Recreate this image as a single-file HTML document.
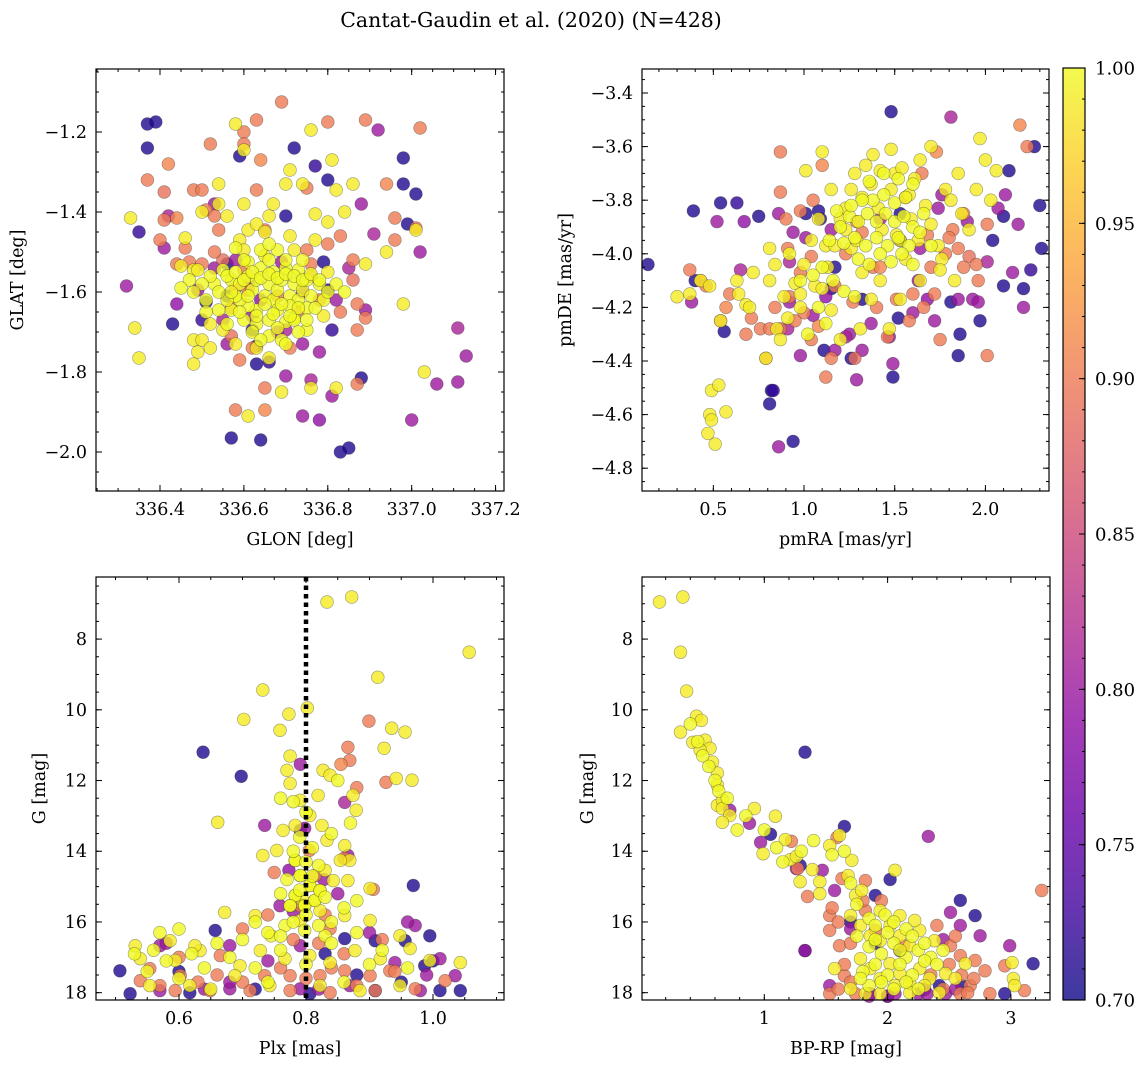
<!DOCTYPE html>
<html><head><meta charset="utf-8"><title>Cantat-Gaudin et al. (2020)</title>
<style>
html,body{margin:0;padding:0;background:#fff;}
svg{display:block;font-family:"DejaVu Serif","Liberation Serif",serif;}
</style></head>
<body>
<svg id="fig" width="1148" height="1068" viewBox="0 0 1148 1068" xmlns="http://www.w3.org/2000/svg">
<defs>
<linearGradient id="plasmaGrad" x1="0" y1="1" x2="0" y2="0">
<stop offset="0" stop-color="#0d0887"/><stop offset="0.1" stop-color="#41049d"/><stop offset="0.2" stop-color="#6a00a8"/><stop offset="0.3" stop-color="#8f0da4"/><stop offset="0.4" stop-color="#b12a90"/><stop offset="0.5" stop-color="#cc4778"/><stop offset="0.6" stop-color="#e16462"/><stop offset="0.7" stop-color="#f2844b"/><stop offset="0.8" stop-color="#fca636"/><stop offset="0.9" stop-color="#fcce25"/><stop offset="1" stop-color="#f0f921"/>
</linearGradient>
</defs>
<text x="531" y="27" font-size="20.5" text-anchor="middle">Cantat-Gaudin et al. (2020) (N=428)</text>
</svg>
<script>
// ---------- data (value units) ----------
// Panel 1: [GLON, GLAT, prob]
const posData = [
[336.37,-1.18,.71],[336.39,-1.175,.71],[336.37,-1.24,.71],[336.35,-1.45,.72],[336.43,-1.68,.71],[336.51,-1.625,.71],[336.50,-1.67,.72],[336.56,-1.53,.71],[336.56,-1.61,.71],[336.59,-1.26,.71],[336.63,-1.735,.72],[336.63,-1.78,.71],[336.64,-1.97,.71],[336.57,-1.965,.71],[336.66,-1.775,.72],[336.72,-1.24,.71],[336.70,-1.41,.71],[336.77,-1.285,.72],[336.80,-1.32,.71],[336.79,-1.525,.71],[336.80,-1.595,.72],[336.83,-2.0,.71],[336.85,-1.99,.71],[336.88,-1.815,.71],[336.98,-1.33,.71],[336.98,-1.265,.71],[337.01,-1.355,.71],[336.99,-1.43,.71],[336.81,-1.695,.72],[336.62,-1.695,.72],
[336.32,-1.585,.80],[336.41,-1.49,.80],[336.42,-1.41,.81],[336.44,-1.63,.79],[336.53,-1.38,.80],[336.49,-1.595,.80],[336.55,-1.67,.81],[336.58,-1.52,.80],[336.64,-1.62,.79],[336.62,-1.66,.80],[336.74,-1.73,.80],[336.76,-1.82,.81],[336.78,-1.75,.80],[336.81,-1.86,.80],[336.78,-1.92,.79],[336.82,-1.62,.80],[336.85,-1.54,.81],[336.89,-1.645,.80],[336.92,-1.195,.80],[336.88,-1.38,.80],[336.91,-1.455,.81],[337.00,-1.92,.80],[337.02,-1.50,.80],[337.11,-1.825,.80],[337.11,-1.69,.81],[337.13,-1.76,.80],[337.06,-1.83,.80],[336.70,-1.81,.80],[336.74,-1.91,.80],[336.70,-1.695,.81],[336.69,-1.525,.80],
[336.69,-1.125,.90],[336.52,-1.23,.90],[336.51,-1.395,.90],[336.42,-1.28,.91],[336.41,-1.35,.89],[336.37,-1.32,.90],[336.41,-1.42,.90],[336.40,-1.47,.90],[336.44,-1.415,.91],[336.48,-1.345,.90],[336.50,-1.345,.90],[336.53,-1.41,.90],[336.57,-1.71,.89],[336.59,-1.77,.90],[336.58,-1.895,.90],[336.65,-1.84,.90],[336.65,-1.895,.91],[336.60,-1.20,.90],[336.63,-1.17,.90],[336.60,-1.23,.90],[336.63,-1.345,.90],[336.64,-1.27,.91],[336.65,-1.445,.90],[336.75,-1.34,.90],[336.80,-1.175,.90],[336.83,-1.46,.90],[336.86,-1.52,.90],[336.86,-1.57,.89],[336.87,-1.63,.90],[336.87,-1.695,.90],[336.89,-1.665,.90],[336.89,-1.17,.90],[336.94,-1.33,.91],[336.96,-1.415,.90],[336.96,-1.47,.90],[337.01,-1.44,.90],[337.02,-1.19,.90],[336.87,-1.83,.90],[336.75,-1.495,.90],[336.76,-1.56,.91],[336.73,-1.645,.90],[336.60,-1.545,.90],[336.61,-1.595,.90],[336.58,-1.59,.90],[336.55,-1.52,.89],[336.54,-1.445,.90],[336.46,-1.49,.90],[336.47,-1.525,.90],[336.68,-1.61,.90],[336.78,-1.62,.90],
[336.33,-1.415,.99],[336.34,-1.69,.99],[336.35,-1.765,.99],[336.46,-1.465,.99],[336.45,-1.535,.99],[336.48,-1.545,.99],[336.49,-1.545,.99],[336.48,-1.72,.99],[336.49,-1.75,.99],[336.48,-1.78,.99],[336.50,-1.72,.99],[336.50,-1.40,.99],[336.54,-1.33,.99],[336.54,-1.38,.99],[336.56,-1.41,.99],[336.58,-1.18,.99],[336.60,-1.245,.99],[336.60,-1.38,.99],[336.59,-1.47,.99],[336.60,-1.495,.99],[336.61,-1.445,.99],[336.63,-1.43,.99],[336.65,-1.45,.99],[336.66,-1.41,.99],[336.67,-1.38,.99],[336.65,-1.51,.99],[336.70,-1.33,.99],[336.71,-1.295,.99],[336.71,-1.46,.99],[336.72,-1.495,.99],[336.74,-1.33,.99],[336.76,-1.195,.99],[336.77,-1.405,.99],[336.77,-1.47,.99],[336.80,-1.425,.99],[336.80,-1.55,.99],[336.81,-1.27,.99],[336.82,-1.345,.99],[336.84,-1.40,.99],[336.86,-1.33,.99],[336.89,-1.53,.99],[336.94,-1.50,.99],[336.98,-1.63,.99],[337.01,-1.445,.99],[337.03,-1.80,.99],[336.82,-1.84,.99],[336.76,-1.84,.99],[336.79,-1.66,.99],[336.69,-1.85,.99],[336.66,-1.765,.99],[336.63,-1.74,.99],[336.61,-1.91,.99],[336.58,-1.73,.99],[336.55,-1.695,.99],[336.52,-1.68,.99],[336.52,-1.74,.99],
[336.55,-1.545,1],[336.57,-1.57,1],[336.59,-1.58,1],[336.61,-1.56,1],[336.62,-1.595,1],[336.63,-1.57,1],[336.65,-1.61,1],[336.66,-1.58,1],[336.67,-1.62,1],[336.68,-1.595,1],[336.69,-1.57,1],[336.71,-1.61,1],[336.72,-1.58,1],[336.73,-1.62,1],[336.74,-1.595,1],[336.75,-1.57,1],[336.76,-1.61,1],[336.78,-1.58,1],[336.79,-1.62,1],[336.71,-1.635,1],[336.68,-1.645,1],[336.66,-1.67,1],[336.63,-1.645,1],[336.61,-1.635,1],[336.59,-1.62,1],[336.57,-1.645,1],[336.60,-1.67,1],[336.63,-1.68,1],[336.66,-1.71,1],[336.70,-1.675,1],[336.72,-1.665,1],[336.75,-1.64,1],[336.73,-1.545,1],[336.70,-1.54,1],[336.67,-1.55,1],[336.64,-1.54,1],[336.61,-1.525,1],[336.64,-1.495,1],[336.68,-1.495,1],[336.72,-1.67,1],[336.75,-1.695,1],[336.69,-1.72,1],[336.58,-1.61,1],[336.56,-1.62,1],[336.53,-1.58,1],[336.51,-1.62,1],[336.54,-1.645,1]
];
const posExtra = [
[336.56,-1.56,1],[336.58,-1.55,1],[336.60,-1.57,1],[336.62,-1.55,1],[336.64,-1.565,1],[336.66,-1.555,1],[336.68,-1.565,1],[336.70,-1.555,1],[336.72,-1.56,1],[336.74,-1.57,1],[336.76,-1.555,1],[336.78,-1.57,1],[336.80,-1.60,1],[336.57,-1.60,1],[336.61,-1.61,1],[336.65,-1.63,1],[336.69,-1.63,1],[336.73,-1.64,1],[336.77,-1.64,1],[336.59,-1.65,1],[336.63,-1.66,1],[336.67,-1.655,1],[336.71,-1.66,1],[336.75,-1.67,1],[336.62,-1.70,1],[336.68,-1.69,1],[336.73,-1.70,1],[336.70,-1.73,1],[336.64,-1.72,1],[336.54,-1.60,1],[336.52,-1.56,1],[336.50,-1.58,1],[336.48,-1.60,1],[336.82,-1.58,1],[336.84,-1.60,1],[336.66,-1.52,1],[336.70,-1.52,1],[336.74,-1.52,1],[336.60,-1.52,1],[336.58,-1.49,1],[336.66,-1.48,1],[336.56,-1.68,1],[336.51,-1.65,1],[336.47,-1.57,1],[336.45,-1.59,1],
[336.50,-1.53,.90],[336.53,-1.50,.90],[336.57,-1.64,.90],[336.76,-1.53,.90],[336.83,-1.65,.90],[336.80,-1.48,.90],[336.44,-1.53,.90],[336.62,-1.74,.90],[336.71,-1.74,.90],
[336.53,-1.54,.80],[336.61,-1.58,.80],[336.74,-1.60,.80],[336.68,-1.70,.80],[336.56,-1.73,.80]
];
// Panel 2: [pmRA, pmDE, prob]
const pmData = [
[0.14,-4.04,.71],[0.39,-3.84,.71],[0.40,-4.10,.71],[0.54,-3.81,.71],[0.56,-4.29,.71],[0.63,-3.81,.72],[0.75,-3.86,.71],[0.82,-4.51,.71],[0.81,-4.56,.71],[0.83,-4.51,.72],[0.94,-4.70,.71],[1.01,-3.85,.71],[1.08,-3.84,.71],[1.09,-3.87,.72],[1.11,-4.36,.71],[1.17,-4.05,.71],[1.15,-4.13,.71],[1.26,-4.39,.71],[1.32,-4.17,.71],[1.48,-3.47,.71],[1.49,-4.46,.71],[1.52,-4.24,.71],[1.53,-3.95,.72],[1.85,-4.38,.71],[1.97,-4.25,.71],[2.10,-3.86,.71],[2.13,-3.69,.71],[2.10,-4.12,.71],[2.31,-3.98,.71],[2.25,-4.06,.72],[2.21,-4.13,.71],[2.27,-3.60,.71],[2.30,-3.82,.71],[2.04,-3.95,.71],[1.81,-4.18,.71],[1.86,-4.30,.71],[1.53,-3.85,.71],
[0.38,-4.18,.80],[0.52,-3.88,.80],[0.65,-4.06,.81],[0.67,-3.88,.79],[0.86,-3.85,.80],[0.94,-3.92,.80],[0.91,-4.28,.81],[0.98,-4.38,.80],[1.01,-3.94,.80],[1.12,-4.16,.79],[1.17,-4.36,.80],[1.23,-4.31,.81],[1.29,-4.47,.80],[1.32,-4.36,.80],[1.37,-4.26,.80],[1.42,-3.87,.81],[1.47,-4.31,.80],[1.49,-4.41,.80],[1.63,-4.10,.80],[1.64,-3.98,.80],[1.68,-4.17,.79],[1.74,-3.83,.80],[1.76,-3.78,.80],[1.81,-3.49,.81],[1.90,-3.88,.80],[1.93,-4.17,.80],[1.96,-4.18,.80],[2.01,-4.03,.81],[2.07,-3.83,.80],[2.11,-3.78,.80],[2.18,-3.89,.80],[2.21,-4.20,.80],[0.86,-4.72,.80],[0.92,-4.03,.81],[1.05,-4.23,.80],[1.15,-3.91,.80],[1.85,-4.17,.80],[2.15,-4.07,.80],
[0.37,-4.06,.90],[0.43,-4.10,.90],[0.46,-4.12,.90],[0.57,-4.20,.91],[0.54,-4.25,.89],[0.59,-4.15,.90],[0.68,-4.30,.90],[0.71,-4.24,.90],[0.76,-4.28,.90],[0.79,-4.39,.91],[0.84,-4.20,.90],[0.81,-4.28,.90],[0.87,-4.28,.89],[0.91,-3.98,.90],[0.92,-4.16,.90],[0.98,-4.07,.90],[1.04,-4.32,.90],[1.08,-4.27,.91],[1.12,-4.46,.90],[1.15,-4.39,.90],[1.17,-4.12,.90],[1.23,-4.00,.90],[1.28,-4.39,.89],[1.29,-3.88,.90],[1.32,-3.92,.90],[1.38,-4.05,.90],[1.42,-4.05,.91],[1.46,-4.31,.90],[1.51,-4.17,.90],[1.56,-3.79,.90],[1.65,-3.70,.90],[1.73,-3.62,.91],[1.82,-3.91,.90],[1.85,-3.98,.90],[1.88,-4.05,.90],[1.91,-4.01,.89],[1.95,-4.04,.90],[2.01,-3.89,.90],[1.96,-4.10,.90],[2.01,-4.38,.90],[2.23,-3.60,.90],[2.19,-3.52,.91],[0.87,-3.62,.90],[0.87,-3.77,.90],[0.90,-3.87,.90],[0.98,-3.84,.90],[1.05,-3.80,.90],[1.10,-3.67,.91],[1.04,-4.01,.90],[1.27,-4.18,.90],[1.75,-4.32,.90],[1.80,-3.94,.90],[1.88,-3.85,.90],
[0.30,-4.16,.99],[0.37,-4.15,.99],[0.43,-4.10,.99],[0.48,-4.12,.99],[0.49,-4.51,.99],[0.53,-4.49,.99],[0.48,-4.60,.99],[0.49,-4.62,.99],[0.47,-4.67,.99],[0.51,-4.71,.99],[0.54,-4.25,.99],[0.57,-4.59,.99],[0.64,-4.15,.99],[0.63,-4.10,.99],[0.68,-4.19,.99],[0.70,-4.20,.99],[0.72,-4.07,.99],[0.79,-4.39,.99],[0.81,-4.10,.99],[0.84,-4.04,.99],[0.85,-4.28,.99],[0.87,-4.32,.99],[0.89,-4.16,.99],[0.91,-4.24,.99],[0.95,-4.11,.99],[0.98,-4.15,.99],[1.00,-4.04,.99],[1.01,-3.69,.99],[1.04,-3.95,.99],[1.06,-4.12,.99],[1.10,-4.13,.99],[1.12,-3.97,.99],[1.13,-4.05,.99],[1.17,-3.97,.99],[1.20,-3.87,.99],[1.23,-3.91,.99],[1.26,-3.98,.99],[1.29,-3.95,.99],[1.32,-3.79,.99],[1.37,-3.74,.99],[1.41,-3.83,.99],[1.43,-3.91,.99],[1.48,-3.76,.99],[1.51,-3.93,.99],[1.53,-3.95,.99],[1.56,-4.02,.99],[1.59,-3.87,.99],[1.63,-3.95,.99],[1.67,-3.82,.99],[1.70,-3.89,.99],[1.74,-3.97,.99],[1.76,-4.02,.99],[1.78,-3.76,.99],[1.81,-3.80,.99],[1.85,-3.70,.99],[1.87,-3.85,.99],[1.91,-3.91,.99],[1.95,-3.76,.99],[1.97,-3.57,.99],[2.00,-3.65,.99],[2.03,-3.80,.99],[2.06,-3.69,.99],[1.48,-3.61,.99],[1.50,-3.70,.99],[1.54,-3.68,.99],[1.58,-3.78,.99],[1.61,-3.72,.99],[1.64,-3.65,.99],[1.70,-3.60,.99],[1.26,-3.76,.99],[1.28,-3.70,.99],[1.34,-3.67,.99],[1.38,-3.63,.99],[1.42,-3.69,.99],[1.47,-4.28,.99],[1.31,-4.28,.99],[1.20,-4.32,.99],[1.15,-4.21,.99],[1.37,-4.17,.99],[1.42,-4.10,.99],[1.64,-4.10,.99],[1.75,-4.06,.99],[1.83,-4.10,.99],[1.32,-4.07,.99],[1.53,-4.17,.99],[1.15,-3.76,.99],[1.08,-3.87,.99],[1.23,-3.83,.99],[1.10,-3.62,.99],[0.81,-3.98,.99],[0.98,-4.20,.99]
];
const pmExtra = [
[1.20,-3.90,1],[1.25,-3.86,1],[1.30,-3.88,1],[1.35,-3.85,1],[1.40,-3.88,1],[1.45,-3.85,1],[1.50,-3.88,1],[1.55,-3.86,1],[1.60,-3.90,1],[1.22,-3.96,1],[1.28,-3.94,1],[1.34,-3.97,1],[1.40,-3.94,1],[1.46,-3.97,1],[1.52,-3.94,1],[1.58,-3.97,1],[1.64,-3.92,1],[1.30,-4.02,1],[1.36,-4.04,1],[1.42,-4.00,1],[1.48,-4.03,1],[1.54,-4.00,1],[1.60,-4.04,1],[1.38,-3.80,1],[1.44,-3.78,1],[1.50,-3.81,1],[1.56,-3.79,1],[1.32,-3.80,1],[1.26,-3.82,1],[1.18,-3.84,1],[1.14,-3.95,1],[1.10,-4.05,1],[1.16,-4.10,1],[1.22,-4.14,1],[1.28,-4.16,1],[1.08,-4.20,1],[1.02,-4.30,1],[1.12,-4.26,1],[1.66,-3.85,1],[1.70,-3.97,1],[1.60,-3.74,1],[1.52,-3.72,1],[1.44,-3.70,1],[1.36,-3.73,1],[1.05,-4.08,1],[0.98,-4.10,1],[0.92,-4.00,1],
[1.70,-4.05,.90],[1.72,-4.15,.90],[1.66,-4.20,.90],[1.60,-4.15,.90],[1.78,-4.00,.90],[1.68,-3.93,.90],[1.00,-4.22,.90],[0.95,-4.25,.90],[1.40,-4.20,.90],[1.58,-4.25,.90],
[1.60,-4.22,.80],[1.72,-4.25,.80],[1.25,-4.30,.80],[0.92,-4.18,.80]
];
// Panel 3: [Plx, G, prob]
const plxData = [
[0.833,6.95,.99],[0.872,6.81,.99],[1.057,8.37,.99],[0.732,9.44,.99],[0.702,10.27,.99],[0.773,10.12,.99],[0.759,10.58,.99],[0.802,9.95,.99],[0.913,9.08,.99],[0.935,10.52,.99],[0.923,11.09,.99],[0.956,10.63,.99],[0.967,11.99,.99],[0.942,11.94,.99],[0.661,13.18,.99],[0.775,11.31,.99],[0.770,11.71,.99],[0.775,12.08,.99],[0.791,12.56,.99],[0.783,13.27,.99],[0.819,12.42,.99],[0.827,11.71,.99],[0.838,11.85,.99],[0.833,13.69,.99],[0.861,13.84,.99],[0.874,12.42,.99],[0.879,12.84,.99],[0.869,14.26,.99],[0.854,14.26,.99],[0.825,13.27,.99],[0.806,12.99,.99],[0.764,13.41,.99],[0.754,13.98,.99],[0.732,14.12,.99],[0.830,14.54,.99],[0.843,14.83,.99],[0.866,14.83,.99],[0.901,15.05,.99],[0.795,15.39,.99],[0.783,14.26,.99],[0.791,14.69,.99],[0.806,14.97,.99],[0.783,15.25,.99],[0.798,15.54,.99],[0.814,15.39,.99],[0.775,15.54,.99],[0.822,15.11,.99],
[0.791,11.54,.80],[0.798,13.35,.80],[0.861,12.62,.81],[0.866,14.12,.80],[0.735,13.27,.80],[0.773,14.54,.79],[0.828,14.80,.80],
[0.866,11.06,.90],[0.899,10.32,.90],[0.926,12.05,.90],[0.906,15.08,.90],[0.805,13.98,.90],[0.855,11.54,.91],[0.869,11.43,.90],[0.814,14.69,.90],
[0.638,11.20,.71],[0.698,11.88,.71],[0.969,14.97,.71],[0.791,13.41,.72],
[0.586,16.53,.99],[0.633,16.81,.99],[0.672,15.73,.99],[0.720,15.82,.99],[0.791,15.96,.99],[0.822,15.68,.99],[0.861,15.82,.99],[0.901,15.96,.99],[0.948,16.39,.99],
[0.791,15.54,.90],[0.838,16.19,.90],[0.759,15.54,.80],[0.972,16.10,.80],[0.657,16.24,.71],[0.956,16.53,.71],[0.995,16.39,.71],
[0.539,17.04,.99],[0.531,16.67,.99],[0.594,17.09,.99],[0.625,16.67,.99],[0.696,17.24,.99],[0.728,16.81,.99],[0.767,17.04,.99],[0.806,16.95,.99],[0.838,17.15,.99],[0.877,16.81,.99],[0.917,17.04,.99],[0.964,16.75,.99],[0.995,17.09,.99],[1.043,17.15,.99],
[0.554,17.32,.90],[0.602,17.52,.90],[0.665,16.95,.90],[0.735,17.52,.90],[0.775,17.52,.90],[0.822,17.52,.90],[0.861,17.38,.90],[0.901,17.52,.90],[0.932,17.38,.90],
[0.570,16.67,.80],[0.680,16.67,.80],[0.791,16.67,.80],[0.940,17.15,.80],[1.011,17.04,.80],
[0.507,17.38,.71],[0.861,16.47,.71],[0.909,16.53,.71],[0.987,17.24,.71],
[0.554,17.80,.99],[0.617,17.80,.99],[0.688,17.52,.99],[0.743,17.80,.99],[0.822,17.80,.99],[0.885,17.94,.99],[0.948,17.80,.99],
[0.539,17.66,.90],[0.594,17.94,.90],[0.649,17.94,.90],[0.712,17.94,.90],[0.775,17.94,.90],[0.838,18.00,.90],[0.909,17.94,.90],[0.972,17.89,.90],[1.019,17.66,.90],
[0.570,17.94,.80],[0.680,17.89,.80],[0.791,17.89,.80],[0.869,17.80,.80],[0.980,17.94,.80],[1.035,17.52,.80],
[0.617,18.00,.71],[0.806,18.03,.71],[0.909,17.94,.71],[1.011,17.94,.71],[1.043,17.94,.71],[0.523,18.03,.71],
[0.783,14.26,1],[0.791,14.69,1],[0.806,14.97,1],[0.783,15.25,1],[0.798,15.54,1],[0.814,15.39,1],[0.775,15.54,1],[0.822,15.11,1],[0.767,16.10,1],[0.798,16.24,1],[0.745,16.39,1],[0.830,16.39,1]
];
const plxExtra = [
[0.78,12.6,1],[0.80,12.9,1],[0.79,13.6,1],[0.81,13.9,1],[0.78,14.0,1],[0.80,14.3,1],[0.82,14.4,1],[0.77,14.8,1],[0.81,14.7,1],[0.79,15.1,1],[0.83,15.3,1],[0.76,15.2,1],[0.80,15.8,1],[0.78,16.0,1],[0.82,16.1,1],[0.76,16.4,1],[0.84,16.0,1],[0.74,16.3,1],[0.86,15.6,1],[0.88,15.4,1],[0.72,16.0,1],[0.70,16.5,1],[0.66,16.6,1],[0.62,16.9,1],[0.58,17.1,1],[0.56,16.8,1],[0.60,17.6,1],[0.64,17.3,1],[0.68,17.0,1],[0.72,17.3,1],[0.76,16.8,1],[0.80,17.2,1],[0.84,16.6,1],[0.88,16.3,1],[0.92,16.8,1],[0.96,17.3,1],[0.74,17.7,1],[0.86,17.7,1],[0.90,17.2,1],[0.65,17.9,1],[0.55,17.4,1],[0.53,16.9,1],[0.57,16.3,1],[0.60,16.2,1],[0.85,12.0,1],[0.76,12.5,1],[0.87,13.2,1],[0.84,13.5,1],
[0.74,15.8,.90],[0.70,16.2,.90],[0.82,16.6,.90],[0.86,16.9,.90],[0.60,17.0,.90],[0.66,17.5,.90],[0.70,17.7,.90],[0.76,17.3,.90],[0.80,17.6,.90],[0.84,17.3,.90],[0.88,17.8,.90],[0.92,16.5,.90],[0.94,17.4,.90],[0.57,17.8,.90],[0.63,17.7,.90],[0.78,16.5,.90],[0.83,15.8,.90],[0.86,14.2,.90],[0.75,14.6,.90],[0.88,12.2,.90],
[0.68,17.7,.80],[0.74,17.1,.80],[0.82,17.9,.80],[0.90,16.3,.80],[0.96,16.0,.80],[0.99,17.5,.80],[0.58,16.6,.80],[0.64,17.9,.80],[0.85,15.2,.80],[0.78,15.7,.80],
[0.72,17.9,.71],[0.88,17.5,.71],[0.95,17.7,.71],[1.00,17.1,.71],[0.60,17.4,.71],[0.83,16.9,.71]
];
// Panel 4: [BP-RP, G, prob]
const cmdData = [
[0.15,6.95,.99],[0.34,6.81,.99],[0.32,8.37,.99],[0.37,9.47,.99],[0.32,10.63,.99],[0.45,10.18,.99],[0.49,10.30,.99],[0.42,10.92,.99],[0.52,10.86,.99],[0.56,11.09,.99],[0.48,11.14,.99],[0.58,11.48,.99],[0.62,11.79,.99],[0.62,12.13,.99],[0.62,12.70,.99],[0.66,12.56,.99],[0.66,12.79,.99],[0.72,12.99,.99],[0.66,13.18,.99],[0.92,12.79,.99],[0.99,14.07,.99],[1.09,13.01,.99],[1.17,13.67,.99],[1.21,14.24,.99],[1.26,14.15,.99],[1.29,14.86,.99],[1.39,14.52,.99],[1.45,14.86,.99],[1.45,15.20,.99],[1.53,13.84,.99],[1.61,13.55,.99],[1.68,14.69,.99],[1.71,14.26,.99],[1.74,15.25,.99],[1.79,15.11,.99],[1.94,15.68,.99],[2.06,14.54,.99],
[0.72,12.84,.80],[0.88,13.21,.80],[0.97,13.75,.80],[1.26,14.49,.80],[1.47,14.54,.80],[1.57,15.11,.80],[2.33,13.58,.80],[1.33,16.81,.80],
[1.33,11.20,.71],[1.29,14.40,.71],[1.65,13.30,.71],[1.05,13.52,.71],[1.33,16.81,.71],[2.10,16.81,.71],[2.02,14.80,.71],[2.71,15.82,.71],
[1.22,13.72,.90],[1.27,14.49,.90],[1.35,15.28,.90],[1.59,13.61,.90],[1.63,14.77,.90],[1.82,14.83,.90],[1.82,15.68,.90],[1.90,16.24,.90],[2.13,16.67,.90],
[1.70,15.82,.99],[1.78,16.10,.99],[1.86,16.39,.99],[1.94,16.53,.99],[2.02,16.10,.99],[2.10,16.39,.99],[2.18,16.67,.99],[2.26,16.24,.99],[2.38,16.53,.99],[1.78,17.04,.99],[1.86,17.32,.99],[1.94,17.60,.99],[2.02,17.18,.99],[2.10,17.46,.99],[2.18,17.74,.99],[2.26,17.32,.99],[2.34,17.60,.99],[2.47,17.46,.99],[1.70,17.89,.99],[1.82,18.03,.99],[1.94,18.03,.99],[2.06,17.80,.99],[2.18,18.00,.99],[2.30,17.80,.99],[2.42,18.00,.99],[2.55,17.60,.99],[2.63,17.18,.99],[3.01,17.15,.99],[3.02,17.60,.99],[3.03,17.80,.99],[1.57,17.32,.99],[2.10,15.82,.99],[2.22,15.96,.99],
[1.53,16.24,.90],[1.61,16.67,.90],[1.65,17.52,.90],[1.74,18.03,.90],[1.53,18.03,.90],[2.51,16.67,.90],[2.59,16.95,.90],[2.71,17.09,.90],[2.79,17.38,.90],[2.67,17.80,.90],[2.83,18.03,.90],[2.95,17.24,.90],[3.11,17.94,.90],[3.25,15.11,.90],[2.59,18.03,.90],[1.53,15.82,.90],
[1.53,17.80,.80],[2.06,18.03,.80],[2.25,18.03,.80],[2.47,18.03,.80],[2.51,15.73,.80],[2.59,16.10,.80],[2.75,16.39,.80],[2.99,16.67,.80],[2.32,18.03,.80],[1.86,18.03,.80],
[1.70,16.00,.71],[2.42,17.80,.71],[2.95,18.03,.71],[3.18,17.18,.71],[1.90,15.25,.71],[2.59,15.39,.71]
];
const cmdExtra = [
[0.40,10.4,1],[0.46,10.9,1],[0.50,11.3,1],[0.55,11.6,1],[0.60,12.0,1],[0.63,12.3,1],[0.70,12.5,1],[0.78,13.4,1],[0.85,13.0,1],[1.0,13.4,1],[1.1,13.9,1],[1.15,14.3,1],[1.3,14.0,1],[1.4,13.7,1],[1.55,14.1,1],[1.65,14.0,1],[1.7,14.9,1],[1.75,15.5,1],[1.85,15.9,1],[1.9,16.1,1],[1.98,15.8,1],[2.05,16.0,1],[2.15,16.2,1],[1.85,16.7,1],[1.95,16.9,1],[2.05,16.6,1],[2.15,17.0,1],[2.25,16.8,1],[2.35,17.0,1],[1.8,17.4,1],[1.9,17.2,1],[2.0,17.5,1],[2.1,17.2,1],[2.2,17.5,1],[2.3,17.1,1],[1.85,17.8,1],[1.95,17.7,1],[2.05,17.9,1],[2.15,17.7,1],[2.25,17.9,1],[2.0,16.3,1],[2.1,16.8,1],[1.9,16.5,1],[2.2,16.4,1],[2.3,16.6,1],[2.4,17.2,1],[1.75,16.4,1],[1.78,17.6,1],[2.45,16.8,1],
[1.55,15.6,.90],[1.6,16.0,.90],[1.7,16.6,.90],[1.65,17.2,.90],[1.7,17.7,.90],[1.6,17.9,.90],[2.5,17.2,.90],[2.6,17.5,.90],[2.7,17.6,.90],[2.45,17.9,.90],[2.55,16.4,.90],[2.4,16.1,.90],[1.95,15.4,.90],[1.8,15.4,.90],[2.35,17.5,.90],[2.65,18.0,.90],
[1.85,18.1,.80],[2.0,18.1,.80],[2.3,17.9,.80],[2.55,17.9,.80],[1.7,16.2,.80],[2.45,16.5,.80],
[2.0,18.1,.71],[2.6,17.8,.71],[1.9,16.6,.71]
];
// tick labels / config
const p1XTicks=[336.4,336.6,336.8,337.0,337.2], p1YTicks=[-2.0,-1.8,-1.6,-1.4,-1.2];
const p2XTicks=[0.5,1.0,1.5,2.0], p2YTicks=[-4.8,-4.6,-4.4,-4.2,-4.0,-3.8,-3.6,-3.4];
const p3XTicks=[0.6,0.8,1.0], gTicks=[8,10,12,14,16,18];
const p4XTicks=[1,2,3];
const cbTicks=[0.70,0.75,0.80,0.85,0.90,0.95,1.00];
const plxCut=[0.8];

const NS="http://www.w3.org/2000/svg";
const svg=document.getElementById('fig');
const TICKFS=17.5, LABFS=17.5;
function mk(tag,attrs,parent){const e=document.createElementNS(NS,tag);for(const k in attrs)e.setAttribute(k,attrs[k]);(parent||svg).appendChild(e);return e;}
const stops=[[13,8,135],[65,4,157],[106,0,168],[143,13,164],[177,42,144],[204,71,120],[225,100,98],[242,132,75],[252,166,54],[252,206,37],[240,249,33]];
function plasma(p){let t=(p-0.7)/0.3;t=Math.max(0,Math.min(1,t));const f=t*10,i=Math.min(9,Math.floor(f)),r=f-i;const a=stops[i],b=stops[i+1];return `rgb(${Math.round(a[0]+(b[0]-a[0])*r)},${Math.round(a[1]+(b[1]-a[1])*r)},${Math.round(a[2]+(b[2]-a[2])*r)})`;}
function fmt(v,d){return (v<0?'\u2212':'')+Math.abs(v).toFixed(d);}

function panel(o){
  const g=mk('g',{});
  
  
  const sx=v=>o.x0+(v-o.xl[0])/(o.xl[1]-o.xl[0])*(o.x1-o.x0);
  const sy=v=>o.y0+(v-o.yl[0])/(o.yl[1]-o.yl[0])*(o.y1-o.y0);
  const pts=o.data.slice().sort((a,b)=>a[2]-b[2]);
  const pg=mk('g',{},g);
  for(const d of pts){
    const c=mk('circle',{cx:sx(d[0]).toFixed(1),cy:sy(d[1]).toFixed(1),r:6.4,fill:plasma(d[2]),'fill-opacity':0.8,stroke:'rgba(40,40,40,0.45)','stroke-width':0.6},pg);
    
    
  }
  if(o.vline){for(const v of o.vline){const l=mk('line',{x1:sx(v),x2:sx(v),y1:o.y0,y2:o.y1,stroke:'#000','stroke-width':4.5,'stroke-dasharray':'4.5 4'},g);
    
    }}
  mk('rect',{x:o.x0,y:o.y0,width:o.x1-o.x0,height:o.y1-o.y0,fill:'none',stroke:'#000','stroke-width':1.2},g);
  const lo=Math.min(...o.xl),hi=Math.max(...o.xl);
  for(let v=Math.ceil(lo/o.xm-1e-9)*o.xm;v<=hi+1e-9;v+=o.xm){const x=sx(v);mk('line',{x1:x,x2:x,y1:o.y1,y2:o.y1-3,stroke:'#000'},g);mk('line',{x1:x,x2:x,y1:o.y0,y2:o.y0+3,stroke:'#000'},g);}
  const ylo=Math.min(...o.yl),yhi=Math.max(...o.yl);
  for(let v=Math.ceil(ylo/o.ym-1e-9)*o.ym;v<=yhi+1e-9;v+=o.ym){const y=sy(v);mk('line',{x1:o.x0,x2:o.x0+3,y1:y,y2:y,stroke:'#000'},g);mk('line',{x1:o.x1,x2:o.x1-3,y1:y,y2:y,stroke:'#000'},g);}
  for(const v of o.xt){const x=sx(v);mk('line',{x1:x,x2:x,y1:o.y1,y2:o.y1-6,stroke:'#000'},g);mk('line',{x1:x,x2:x,y1:o.y0,y2:o.y0+6,stroke:'#000'},g);
    const t=mk('text',{x:x,y:o.y1+24,'font-size':TICKFS,'text-anchor':'middle'},g);t.textContent=fmt(v,o.xd);
    
    }
  for(const v of o.yt){const y=sy(v);mk('line',{x1:o.x0,x2:o.x0+6,y1:y,y2:y,stroke:'#000'},g);mk('line',{x1:o.x1,x2:o.x1-6,y1:y,y2:y,stroke:'#000'},g);
    const t=mk('text',{x:o.x0-9,y:y+6,'font-size':TICKFS,'text-anchor':'end'},g);t.textContent=fmt(v,o.yd);
    
    }
  const xl=mk('text',{x:(o.x0+o.x1)/2,y:o.y1+54,'font-size':LABFS,'text-anchor':'middle'},g);xl.textContent=o.xlab;
  
  
  const yx=o.ylx, yy=(o.y0+o.y1)/2;
  const yl=mk('text',{x:yx,y:yy,'font-size':LABFS,'text-anchor':'middle',transform:`rotate(-90 ${yx} ${yy})`},g);yl.textContent=o.ylab;
  
  
}
panel({name:'position-panel',data:posData.concat(posExtra),x0:96,x1:504,y0:69,y1:491,xl:[336.2474,337.2201],yl:[-1.0425,-2.0975],xt:p1XTicks,xm:0.05,yt:p1YTicks,ym:0.05,xd:1,yd:1,xlab:'GLON [deg]',ylab:'GLAT [deg]',ylx:23});
panel({name:'proper-motion-panel',data:pmData.concat(pmExtra),x0:642,x1:1049,y0:69,y1:491,xl:[0.1067,2.3506],yl:[-3.3105,-4.8851],xt:p2XTicks,xm:0.1,yt:p2YTicks,ym:0.05,xd:1,yd:1,xlab:'pmRA [mas/yr]',ylab:'pmDE [mas/yr]',ylx:571});
panel({name:'parallax-magnitude-panel',data:plxData.concat(plxExtra),x0:96,x1:504,y0:577,y1:1000,xl:[0.4693,1.1118],yl:[6.244,18.207],xt:p3XTicks,xm:0.05,yt:gTicks,ym:0.5,xd:1,yd:0,xlab:'Plx [mas]',ylab:'G [mag]',ylx:45});
panel({name:'color-magnitude-panel',data:cmdData.concat(cmdExtra),x0:642,x1:1050,y0:577,y1:1000,xl:[0.0081,3.3171],yl:[6.244,18.207],xt:p4XTicks,xm:0.2,yt:gTicks,ym:0.5,xd:0,yd:0,xlab:'BP-RP [mag]',ylab:'G [mag]',ylx:593});
// dotted cut line redraw on top handled in panel via vline
(function(){const sx=v=>96+(v-0.4693)/(1.1118-0.4693)*408;for(const v of plxCut){const l=mk('line',{x1:sx(v),x2:sx(v),y1:577,y2:1000,stroke:'#000','stroke-width':4.5,'stroke-dasharray':'4.5 4'});
  
  }})();

// colorbar
const cb=mk('g',{});


const cbx0=1063,cbx1=1085,cby0=68,cby1=1000;
mk('rect',{x:cbx0,y:cby0,width:cbx1-cbx0,height:cby1-cby0,fill:'url(#plasmaGrad)','fill-opacity':0.8},cb);
mk('rect',{x:cbx0,y:cby0,width:cbx1-cbx0,height:cby1-cby0,fill:'none',stroke:'#000','stroke-width':1.2},cb);
const cy=v=>cby1-(v-0.7)/0.3*(cby1-cby0);
for(let v=0.70;v<=1.0001;v+=0.01){const y=cy(v);mk('line',{x1:cbx1,x2:cbx1-3,y1:y,y2:y,stroke:'#000'},cb);}
for(const v of cbTicks){const y=cy(v);mk('line',{x1:cbx1,x2:cbx1-6,y1:y,y2:y,stroke:'#000'},cb);
  const t=mk('text',{x:cbx1+10,y:y+6.5,'font-size':18},cb);t.textContent=v.toFixed(2);
  
  }
</script>
</body></html>
